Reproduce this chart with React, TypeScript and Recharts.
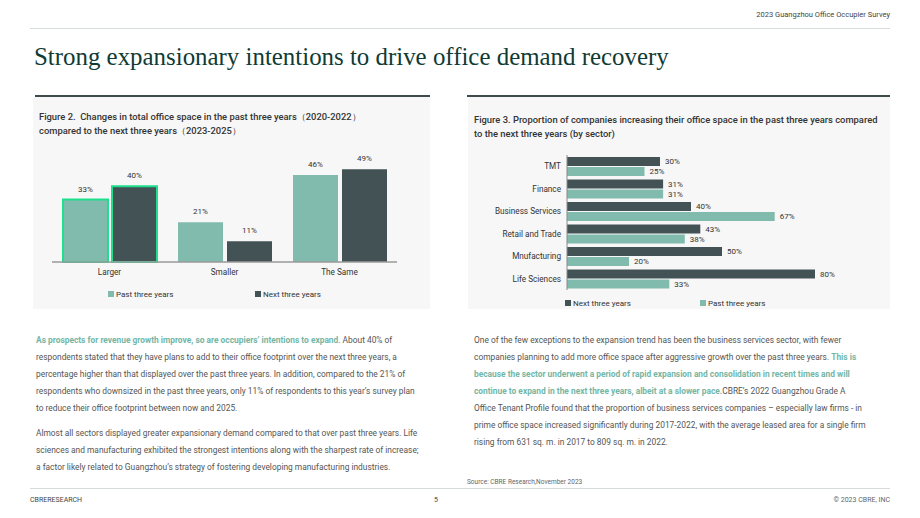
import React from 'react';
import { BarChart, Bar, XAxis, YAxis, Cell, LabelList } from 'recharts';

// Figure 2
const changeCategories = ['Larger', 'Smaller', 'The Same'];
const pastChange = [33, 21, 46];
const nextChange = [40, 11, 49];

// Figure 3
const sectors = ['TMT', 'Finance', 'Business Services', 'Retail and Trade', 'Mnufacturing', 'Life Sciences'];
const sectorNext = [30, 31, 40, 43, 50, 80];
const sectorPast = [25, 31, 67, 38, 20, 33];

const PAST = '#80bbad';
const NEXT = '#435254';
const HIGHLIGHT = '#1ee08c';
const FONT = 'Roboto, "Noto Sans", sans-serif';

const fig2Data = changeCategories.map((c, i) => ({ name: c, past: pastChange[i], next: nextChange[i] }));
const fig3Data = sectors.map((s, i) => ({ name: s, next: sectorNext[i], past: sectorPast[i] }));

const pct = (v: any) => `${v}%`;

const abs = (left: number, top: number, extra: React.CSSProperties = {}): React.CSSProperties => ({
  position: 'absolute', left, top, ...extra,
});

const Swatch = ({ color }: { color: string }) => (
  <span style={{ display: 'inline-block', width: 6, height: 6, background: color, marginRight: 2, verticalAlign: 0 }} />
);

// sector names on one line, right aligned against the axis
const SectorTick = (props: any) => {
  const { x, y, payload } = props;
  return (
    <text x={x} y={y} dy={3} textAnchor="end" fill="#333" fontSize={8.2} fontFamily={FONT}>
      {payload.value}
    </text>
  );
};

const leftLines = [
  "respondents stated that they have plans to add to their office footprint over the next three years, a",
  "percentage higher than that displayed over the past three years. In addition, compared to the 21% of",
  "respondents who downsized in the past three years, only 11% of respondents to this year\u2019s survey plan",
  "to reduce their office footprint between now and 2025.",
];
const leftLines2 = [
  "Almost all sectors displayed greater expansionary demand compared to that over past three years. Life",
  "sciences and manufacturing exhibited the strongest intentions along with the sharpest rate of increase;",
  "a factor likely related to Guangzhou\u2019s strategy of fostering developing manufacturing industries.",
];

export default function App() {
  const body: React.CSSProperties = { fontFamily: FONT, fontSize: 8.4, color: '#555', whiteSpace: 'nowrap', lineHeight: '17px' };
  const green: React.CSSProperties = { color: '#74b6a5', fontWeight: 700 };
  const figTitle: React.CSSProperties = { fontFamily: FONT, fontSize: 9.4, color: '#333', fontWeight: 500, lineHeight: '13.5px', whiteSpace: 'nowrap' };

  return (
    <div style={{ position: 'absolute', left: 0, top: 0, width: 920, height: 518, background: '#fff', overflow: 'hidden', fontFamily: FONT }}>
      <div style={abs(0, 10, { width: 890, textAlign: 'right', fontSize: 7.5, color: '#444' })}>2023 Guangzhou Office Occupier Survey</div>
      <div style={abs(30, 28, { width: 860, height: 1, background: '#d6dcdc' })} />
      <div style={abs(34, 43, { fontFamily: '"Liberation Serif", serif', fontSize: 24.9, color: '#0f3b34', whiteSpace: 'nowrap' })}>
        Strong expansionary intentions to drive office demand recovery
      </div>

      {/* left panel */}
      <div style={abs(33, 97, { width: 397, height: 212, background: '#f7f7f7' })} />
      <div style={abs(35, 95, { width: 395, height: 2, background: '#3d4b4c' })} />
      <div style={abs(39, 110, figTitle)}>
        <div>Figure 2.&nbsp; Changes in total office space in the past three years（2020-2022）</div>
        <div>compared to the next three years（2023-2025）</div>
      </div>
      <div style={abs(33, 150)}>
        <BarChart width={397} height={160} data={fig2Data} margin={{ top: 8, right: 33, bottom: 28, left: 19 }} barGap={4} barSize={45}>
          <XAxis dataKey="name" height={20} axisLine={{ stroke: '#9a9a9a', strokeWidth: 1.5 }} tickLine={false} tickMargin={1}
            tick={{ fill: '#333', fontSize: 8.2, fontFamily: FONT }} />
          <YAxis hide domain={[0, 55]} />
          <Bar dataKey="past" isAnimationActive={false}>
            {fig2Data.map((_, i) => (
              <Cell key={`p-${i}`} fill={PAST} stroke={i === 0 ? HIGHLIGHT : 'none'} strokeWidth={i === 0 ? 2 : 0} />
            ))}
            <LabelList dataKey="past" position="top" offset={8} formatter={pct} style={{ fill: '#333', fontSize: 8, fontFamily: FONT }} />
          </Bar>
          <Bar dataKey="next" isAnimationActive={false}>
            {fig2Data.map((_, i) => (
              <Cell key={`n-${i}`} fill={NEXT} stroke={i === 0 ? HIGHLIGHT : 'none'} strokeWidth={i === 0 ? 2 : 0} />
            ))}
            <LabelList dataKey="next" position="top" offset={8} formatter={pct} style={{ fill: '#333', fontSize: 8, fontFamily: FONT }} />
          </Bar>
        </BarChart>
      </div>
      <div style={abs(108, 290, { fontSize: 8, color: '#333', whiteSpace: 'nowrap' })}><Swatch color={PAST} />Past three years</div>
      <div style={abs(255, 290, { fontSize: 8, color: '#333', whiteSpace: 'nowrap' })}><Swatch color={NEXT} />Next three years</div>

      {/* right panel */}
      <div style={abs(468, 97, { width: 422, height: 212, background: '#f7f7f7' })} />
      <div style={abs(467, 95, { width: 423, height: 2, background: '#3d4b4c' })} />
      <div style={abs(474, 113, figTitle)}>
        <div>Figure 3. Proportion of companies increasing their office space in the past three years compared</div>
        <div>to the next three years (by sector)</div>
      </div>
      <div style={abs(467, 140)}>
        <BarChart width={423} height={160} layout="vertical" data={fig3Data} margin={{ top: 15, right: 75, bottom: 10, left: 0 }}
          barGap={1} barSize={9}>
          <XAxis type="number" hide domain={[0, 80]} />
          <YAxis type="category" dataKey="name" width={100} interval={0} axisLine={{ stroke: '#8a8a8a' }} tickLine={false} tickMargin={0}
            tick={<SectorTick />} />
          <Bar dataKey="next" fill={NEXT} isAnimationActive={false}>
            <LabelList dataKey="next" position="right" offset={5} formatter={pct} style={{ fill: '#333', fontSize: 8, fontFamily: FONT }} />
          </Bar>
          <Bar dataKey="past" fill={PAST} isAnimationActive={false}>
            <LabelList dataKey="past" position="right" offset={5} formatter={pct} style={{ fill: '#333', fontSize: 8, fontFamily: FONT }} />
          </Bar>
        </BarChart>
      </div>
      <div style={abs(565, 299, { fontSize: 8, color: '#333', whiteSpace: 'nowrap' })}><Swatch color={NEXT} />Next three years</div>
      <div style={abs(700, 299, { fontSize: 8, color: '#333', whiteSpace: 'nowrap' })}><Swatch color={PAST} />Past three years</div>

      {/* text */}
      <div style={abs(36, 332, body)}>
        <div><span style={green}>As prospects for revenue growth improve, so are occupiers’ intentions to expand</span>. About 40% of</div>
        {leftLines.map((l) => <div key={l}>{l}</div>)}
        <div style={{ height: 8 }} />
        {leftLines2.map((l) => <div key={l}>{l}</div>)}
      </div>
      <div style={abs(474, 332, body)}>
        <div>One of the few exceptions to the expansion trend has been the business services sector, with fewer</div>
        <div>companies planning to add more office space after aggressive growth over the past three years. <span style={green}>This is</span></div>
        <div><span style={green}>because the sector underwent a period of rapid expansion and consolidation in recent times and will</span></div>
        <div><span style={green}>continue to expand in the next three years, albeit at a slower pace.</span>CBRE’s 2022 Guangzhou Grade A</div>
        <div>Office Tenant Profile found that the proportion of business services companies – especially law firms - in</div>
        <div>prime office space increased significantly during 2017-2022, with the average leased area for a single firm</div>
        <div>rising from 631 sq. m. in 2017 to 809 sq. m. in 2022.</div>
      </div>

      <div style={abs(467, 478, { fontSize: 6.5, color: '#666', whiteSpace: 'nowrap' })}>Source: CBRE Research,November 2023</div>
      <div style={abs(30, 488, { width: 860, height: 1, background: '#d6dcdc' })} />
      <div style={abs(30, 496, { fontSize: 7, color: '#444' })}>CBRERESEARCH</div>
      <div style={abs(434, 496, { fontSize: 7, color: '#444' })}>5</div>
      <div style={abs(0, 496, { width: 890, textAlign: 'right', fontSize: 7, color: '#666' })}>© 2023 CBRE, INC</div>
    </div>
  );
}
